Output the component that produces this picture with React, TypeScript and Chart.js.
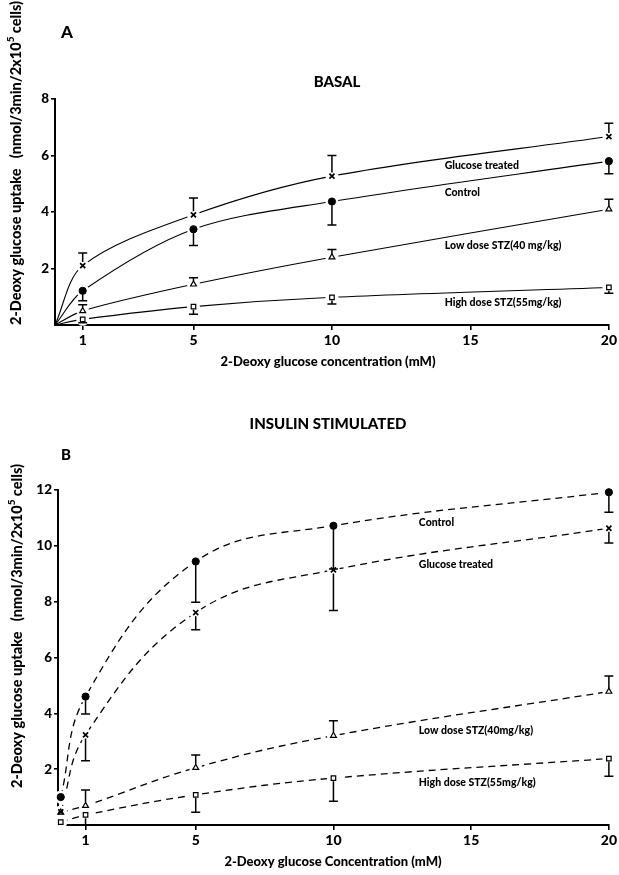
import React, { useEffect, useRef } from 'react';
import { Chart, registerables } from 'chart.js';
Chart.register(...registerables);

const FONT = 'Lato, "DejaVu Sans", sans-serif';

// ---------------- Panel A : BASAL ----------------
const basalConc = [1, 5, 10, 20];
const basalGlucose = [2.1, 3.9, 5.27, 6.67];
const basalGlucoseErr = [0.45, 0.6, 0.73, 0.47];
const basalControl = [1.21, 3.39, 4.37, 5.8];
const basalControlErr = [0.35, 0.58, 0.83, 0.45];
const basalLow = [0.5, 1.44, 2.4, 4.1];
const basalLowErr = [0.22, 0.23, 0.27, 0.35];
const basalHigh = [0.2, 0.65, 0.98, 1.33];
const basalHighErr = [0.12, 0.27, 0.24, 0.21];
const basalNames = ['Glucose treated', 'Control', 'Low dose STZ(40 mg/kg)', 'High dose STZ(55mg/kg)'];
const basalYTicks = [2, 4, 6, 8];

// ---------------- Panel B : INSULIN STIMULATED ----------------
const insulinConc = [0.1, 1, 5, 10, 20];
const insulinControl = [1.0, 4.6, 9.44, 10.72, 11.92];
const insulinControlErr = [0, 0.62, 1.46, 1.55, 0.72];
const insulinGlucose = [0.47, 3.23, 7.61, 9.14, 10.63];
const insulinGlucoseErr = [0, 0.93, 0.62, 1.46, 0.53];
const insulinLow = [0.45, 0.69, 2.05, 3.2, 4.78];
const insulinLowErr = [0, 0.56, 0.46, 0.53, 0.56];
const insulinHigh = [0.1, 0.36, 1.08, 1.68, 2.38];
const insulinHighErr = [0, 0.36, 0.62, 0.83, 0.63];
const insulinNames = ['Control', 'Glucose treated', 'Low dose STZ(40mg/kg)', 'High dose STZ(55mg/kg)'];
const insulinYTicks = [2, 4, 6, 8, 10, 12];

const xTicks = [1, 5, 10, 15, 20];

type Key = 'glucose' | 'control' | 'low' | 'high';
type Series = { key: Key; name: string; values: number[]; errs: number[]; dir: 1 | -1 };

const markerStyle: Record<Key, any> = {
  control: { pointStyle: 'circle', pointRadius: 3.6, pointBackgroundColor: '#000', pointBorderWidth: 1 },
  glucose: { pointStyle: 'crossRot', pointRadius: 3.6, pointBackgroundColor: '#000', pointBorderWidth: 1.7 },
  low: { pointStyle: 'triangle', pointRadius: 3.4, pointBackgroundColor: '#fff', pointBorderWidth: 1.2 },
  high: { pointStyle: 'rect', pointRadius: 3.2, pointBackgroundColor: '#fff', pointBorderWidth: 1.2 },
};

type Panel = {
  conc: number[];
  series: Series[];
  origin: boolean;
  dashed: boolean;
  tension: number;
  yMax: number;
  yTicks: number[];
  height: number;
  area: { left: number; top: number; right: number; bottom: number };
  labels: { x: number; y: number }[];
  decorate: (ctx: CanvasRenderingContext2D) => void;
};

function drawYTitle(ctx: CanvasRenderingContext2D, cx: number, cy: number) {
  ctx.save();
  ctx.translate(cx, cy);
  ctx.rotate(-Math.PI / 2);
  ctx.fillStyle = '#000';
  ctx.textBaseline = 'middle';
  ctx.textAlign = 'left';
  const main = '2-Deoxy glucose uptake   (nmol/3min/2x10';
  const sup = '5';
  const tail = ' cells)';
  const big = `900 14.5px ${FONT}`;
  const small = `900 10px ${FONT}`;
  ctx.font = big;
  const w1 = ctx.measureText(main).width;
  const w3 = ctx.measureText(tail).width;
  ctx.font = small;
  const w2 = ctx.measureText(sup).width;
  let x = -(w1 + w2 + w3) / 2;
  ctx.font = big;
  ctx.fillText(main, x, 0);
  x += w1;
  ctx.font = small;
  ctx.fillText(sup, x, -5);
  x += w2;
  ctx.font = big;
  ctx.fillText(tail, x, 0);
  ctx.restore();
}

function drawText(ctx: CanvasRenderingContext2D, t: string, x: number, y: number, size: number, align: CanvasTextAlign = 'center') {
  ctx.save();
  ctx.fillStyle = '#000';
  ctx.font = `900 ${size}px ${FONT}`;
  ctx.textAlign = align;
  ctx.textBaseline = 'middle';
  ctx.fillText(t, x, y);
  ctx.restore();
}

const panelA: Panel = {
  conc: basalConc,
  series: [
    { key: 'glucose', name: basalNames[0], values: basalGlucose, errs: basalGlucoseErr, dir: 1 },
    { key: 'control', name: basalNames[1], values: basalControl, errs: basalControlErr, dir: -1 },
    { key: 'low', name: basalNames[2], values: basalLow, errs: basalLowErr, dir: 1 },
    { key: 'high', name: basalNames[3], values: basalHigh, errs: basalHighErr, dir: -1 },
  ],
  origin: true,
  dashed: false,
  tension: 0.32,
  yMax: 8,
  yTicks: basalYTicks,
  height: 385,
  area: { left: 55, top: 99, right: 612, bottom: 325 },
  labels: [
    { x: 14.07, y: 5.63 },
    { x: 14.07, y: 4.67 },
    { x: 14.07, y: 2.8 },
    { x: 14.07, y: 0.78 },
  ],
  decorate: (ctx) => {
    drawText(ctx, 'A', 61, 33, 17, 'left');
    drawText(ctx, 'BASAL', 337, 82, 15);
    drawText(ctx, '2-Deoxy glucose concentration (mM)', 328, 362, 13);
    drawYTitle(ctx, 16, 163);
  },
};

const panelB: Panel = {
  conc: insulinConc,
  series: [
    { key: 'control', name: insulinNames[0], values: insulinControl, errs: insulinControlErr, dir: -1 },
    { key: 'glucose', name: insulinNames[1], values: insulinGlucose, errs: insulinGlucoseErr, dir: -1 },
    { key: 'low', name: insulinNames[2], values: insulinLow, errs: insulinLowErr, dir: 1 },
    { key: 'high', name: insulinNames[3], values: insulinHigh, errs: insulinHighErr, dir: -1 },
  ],
  origin: false,
  dashed: true,
  tension: 0.4,
  yMax: 12,
  yTicks: insulinYTicks,
  height: 490,
  area: { left: 58, top: 105, right: 612, bottom: 440 },
  labels: [
    { x: 13.1, y: 10.83 },
    { x: 13.1, y: 9.32 },
    { x: 13.1, y: 3.38 },
    { x: 13.1, y: 1.52 },
  ],
  decorate: (ctx) => {
    drawText(ctx, 'INSULIN STIMULATED', 328, 39, 15);
    drawText(ctx, 'B', 61, 70, 15, 'left');
    drawText(ctx, '2-Deoxy glucose Concentration (mM)', 333, 477, 13);
    drawYTitle(ctx, 17, 241);
  },
};

function buildConfig(p: Panel, width: number): any {
  const lines = p.series.map((s) => ({
    label: s.name,
    data: (p.origin ? [{ x: 0, y: 0 }] : []).concat(p.conc.map((c, i) => ({ x: c, y: s.values[i] }))),
    borderColor: '#000',
    borderWidth: p.dashed ? 1.3 : 1.1,
    borderDash: p.dashed ? [7, 5] : [],
    pointRadius: 0,
    tension: p.tension,
    fill: false,
    order: 2,
    clip: false,
  }));
  const markers = p.series.map((s) => ({
    label: s.name + ' points',
    data: p.conc.map((c, i) => ({ x: c, y: s.values[i] })),
    showLine: false,
    pointBorderColor: '#000',
    ...markerStyle[s.key],
    order: 1,
    clip: false,
    isMarker: true,
    errs: s.errs,
    errDir: s.dir,
  }));

  let haloDone = false;
  const plugin = {
    id: 'decor',
    beforeDatasetsDraw() {
      haloDone = false;
    },
    beforeDatasetDraw(chart: any, args: any) {
      const ds = chart.data.datasets[args.index];
      if (!ds.isMarker || haloDone) return;
      haloDone = true;
      const ctx = chart.ctx;
      ctx.save();
      ctx.fillStyle = '#fff';
      chart.data.datasets.forEach((d: any, i: number) => {
        if (!d.isMarker) return;
        chart.getDatasetMeta(i).data.forEach((pt: any) => {
          ctx.beginPath();
          ctx.arc(pt.x, pt.y, 6.5, 0, Math.PI * 2);
          ctx.fill();
        });
      });
      ctx.restore();
    },
    afterDatasetsDraw(chart: any) {
      const ctx = chart.ctx;
      const ys = chart.scales.y;
      ctx.save();
      ctx.strokeStyle = '#000';
      ctx.lineWidth = 1.5;
      chart.data.datasets.forEach((d: any, i: number) => {
        if (!d.isMarker) return;
        const r = d.pointRadius;
        chart.getDatasetMeta(i).data.forEach((pt: any, j: number) => {
          const e = d.errs[j];
          if (!e) return;
          const yEnd = ys.getPixelForValue(d.data[j].y + d.errDir * e);
          const yStart = pt.y + (d.errDir > 0 ? -r : r);
          ctx.beginPath();
          ctx.moveTo(pt.x, yStart);
          ctx.lineTo(pt.x, yEnd);
          ctx.moveTo(pt.x - 4.5, yEnd);
          ctx.lineTo(pt.x + 4.5, yEnd);
          ctx.stroke();
        });
      });
      ctx.restore();
      p.labels.forEach((l, k) => {
        const px = chart.scales.x.getPixelForValue(l.x);
        const py = ys.getPixelForValue(l.y);
        drawText(ctx, p.series[k].name, px, py, 10.5, 'left');
      });
    },
    afterDraw(chart: any) {
      p.decorate(chart.ctx);
    },
  };

  const axisCommon = {
    z: 1,
    grid: { display: true, drawOnChartArea: false, drawTicks: true, tickLength: 5, color: '#000', lineWidth: 1.6 },
    border: { display: true, color: '#000', width: 2 },
  };

  return {
    type: 'line',
    data: { datasets: [...lines, ...markers] },
    options: {
      animation: false,
      responsive: false,
      devicePixelRatio: 1,
      layout: { padding: { left: 0, top: p.area.top, right: width - p.area.right, bottom: 0 } },
      plugins: { legend: { display: false }, tooltip: { enabled: false }, title: { display: false } },
      scales: {
        x: {
          type: 'linear',
          min: 0,
          max: 20,
          ...axisCommon,
          ticks: { color: '#000', font: { family: FONT, size: 14, weight: '900' }, padding: 2, autoSkip: false, maxRotation: 0 },
          afterBuildTicks: (s: any) => {
            s.ticks = xTicks.map((v) => ({ value: v }));
          },
          afterFit: (s: any) => {
            s.height = p.height - p.area.bottom;
          },
        },
        y: {
          type: 'linear',
          min: 0,
          max: p.yMax,
          ...axisCommon,
          grid: { ...axisCommon.grid, tickLength: 4 },
          ticks: { color: '#000', font: { family: FONT, size: 13.5, weight: '900' }, padding: 2, autoSkip: false },
          afterBuildTicks: (s: any) => {
            s.ticks = p.yTicks.map((v) => ({ value: v }));
          },
          afterFit: (s: any) => {
            s.width = p.area.left;
          },
        },
      },
    },
    plugins: [plugin],
  };
}

function PanelChart({ panel, top }: { panel: Panel; top: number }) {
  const ref = useRef<HTMLCanvasElement>(null);
  useEffect(() => {
    if (!ref.current) return;
    const chart = new Chart(ref.current, buildConfig(panel, 619));
    return () => chart.destroy();
  }, [panel]);
  return (
    <canvas
      ref={ref}
      width={619}
      height={panel.height}
      style={{ position: 'absolute', left: 0, top, width: 619, height: panel.height, display: 'block' }}
    />
  );
}

export default function App() {
  return (
    <div style={{ position: 'absolute', left: 0, top: 0, width: 619, height: 875, background: '#fff', overflow: 'hidden' }}>
      <PanelChart panel={panelA} top={0} />
      <PanelChart panel={panelB} top={385} />
    </div>
  );
}
